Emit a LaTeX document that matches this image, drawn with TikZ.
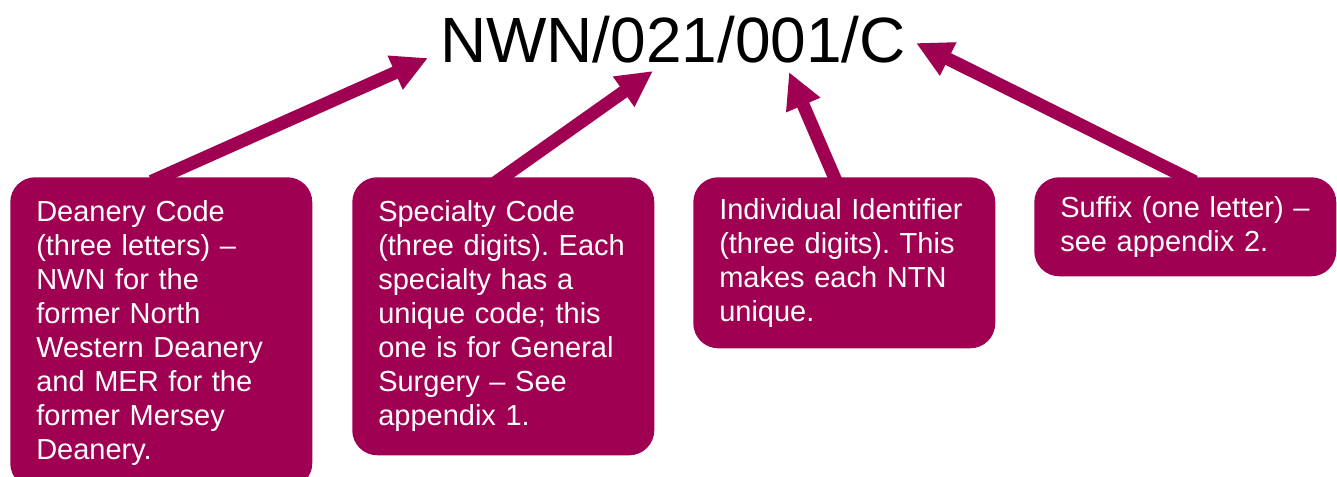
\documentclass[tikz,border=0pt]{standalone}
\usepackage{fontspec}
\setmainfont{Liberation Sans}
\usetikzlibrary{arrows.meta}
\definecolor{ntnred}{RGB}{160,0,82}
\frenchspacing

\begin{document}
\begin{tikzpicture}[x=0.75pt, y=-0.75pt,
    every node/.style={font=\fontsize{21.75}{25.5}\selectfont},
    part/.style={fill=ntnred, text=white, rounded corners=18.75pt, anchor=north west,
        text width=187.5pt, inner xsep=19.5pt, inner ysep=0pt, align=left, minimum width=226.5pt},
    pointer/.style={draw=ntnred, line width=9.75pt, -{Triangle[length=27pt,width=26pt]}, shorten <=-8pt}]
    \useasboundingbox (0,0) rectangle (1337,477);
    \node[font=\fontsize{48}{58}\selectfont, anchor=base, inner sep=0pt] (code) at (673,63) {NWN/021/001/C};
    \coordinate (tipdeanery) at (428,58);
    \coordinate (tipspecialty) at (653,71);
    \coordinate (tipindividual) at (789,72);
    \coordinate (tipsuffix) at (916,43);
    \node[part, minimum height=233.25pt] (deanery) at (10,177) {Deanery Code\\(three letters) –\\NWN for the\\former North\\Western Deanery\\and MER for the\\former Mersey\\Deanery.};
    \node[part, minimum height=208.5pt] (specialty) at (352,177) {Specialty Code\\(three digits). Each\\specialty has a\\unique code; this\\one is for General\\Surgery – See\\appendix 1.};
    \node[part, minimum height=128.25pt] (individual) at (693,177) {Individual Identifier\\(three digits). This\\makes each NTN\\unique.};
    \node[part, minimum height=74.25pt] (suffix) at (1034,177) {Suffix (one letter) –\\see appendix 2.};
    \draw[pointer] (deanery.north) -- (tipdeanery);
    \draw[pointer] (specialty.north) -- (tipspecialty);
    \draw[pointer] ([xshift=-7.5pt]individual.north) -- (tipindividual);
    \draw[pointer] (suffix.north) -- (tipsuffix);
\end{tikzpicture}
\end{document}
